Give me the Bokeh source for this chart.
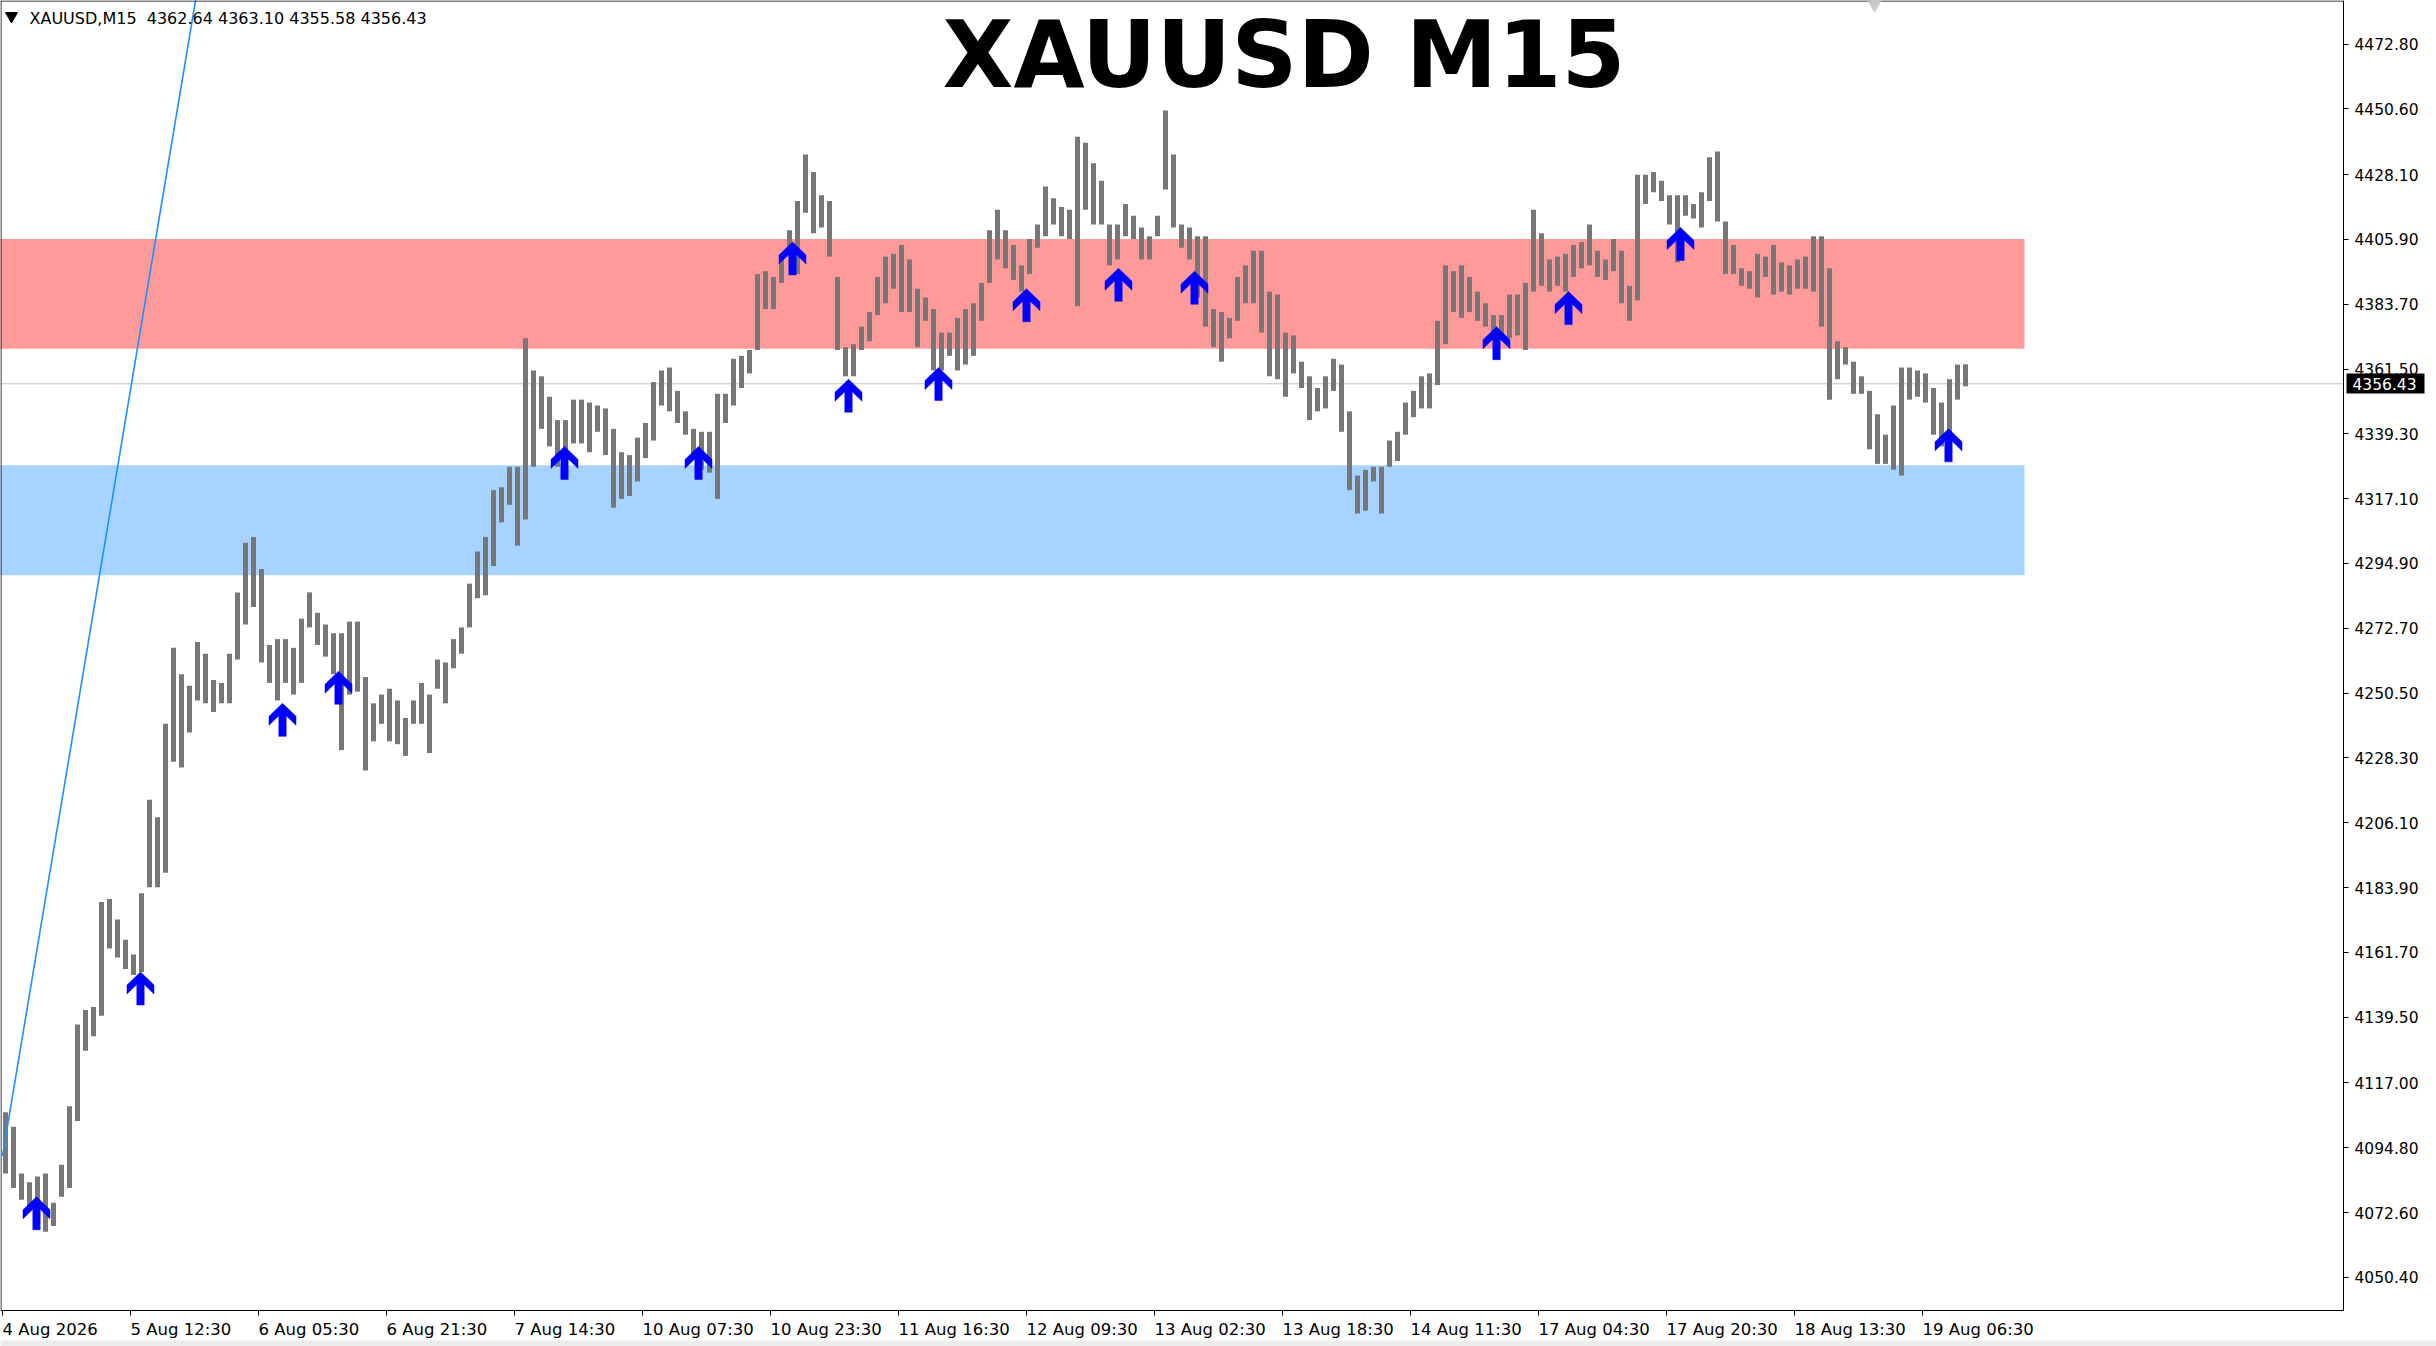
from bokeh.plotting import figure
from bokeh.models import Range1d, FixedTicker, NumeralTickFormatter, Label, LinearAxis, BoxAnnotation
from bokeh.embed import file_html
from bokeh.resources import INLINE

# ---------------- data ----------------
symbol = "XAUUSD"
timeframe = "M15"
last_ohlc = [4362.64, 4363.10, 4355.58, 4356.43]

# hourly-aggregated bars (each spans four M15 periods)
bar_high = [
    4107, 4102, 4086, 4083, 4085, 4086, 4076, 4089, 4109, 4137,
    4142, 4143, 4179, 4180, 4173, 4166, 4161, 4182, 4214, 4208,
    4240, 4266, 4257, 4253, 4268, 4264, 4255, 4254, 4264, 4285,
    4302, 4304, 4293, 4267, 4269, 4269, 4266, 4276, 4285, 4278,
    4274, 4271, 4271, 4275, 4275, 4256, 4247, 4250, 4252, 4248,
    4242, 4248, 4254, 4250, 4262, 4261, 4269, 4273, 4288, 4299,
    4304, 4320, 4321, 4328, 4328, 4372, 4361, 4359, 4352, 4344,
    4344, 4351, 4351, 4350, 4349, 4348, 4341, 4333, 4332, 4338,
    4343, 4357, 4361, 4362, 4354, 4347, 4341, 4340, 4340, 4353,
    4353, 4365, 4366, 4368, 4394, 4395, 4393, 4399, 4409, 4419,
    4435, 4429, 4421, 4419, 4393, 4369, 4370, 4376, 4381, 4393,
    4400, 4401, 4404, 4399, 4389, 4386, 4382, 4374, 4374, 4379,
    4382, 4384, 4391, 4409, 4416, 4409, 4404, 4397, 4406, 4411,
    4424, 4420, 4417, 4416, 4441, 4439, 4432, 4426, 4411, 4411,
    4418, 4414, 4410, 4407, 4414, 4450, 4435, 4411, 4410, 4407,
    4407, 4382, 4381, 4379, 4393, 4397, 4402, 4402, 4388, 4387,
    4374, 4373, 4364, 4359, 4355, 4359, 4365, 4363, 4347, 4325,
    4327, 4328, 4328, 4337, 4340, 4350, 4354, 4359, 4360, 4378,
    4397, 4395, 4397, 4393, 4388, 4384, 4380, 4380, 4387, 4387,
    4391, 4416, 4408, 4399, 4400, 4401, 4404, 4405, 4411, 4402,
    4399, 4406, 4402, 4390, 4428, 4428, 4429, 4426, 4421, 4421,
    4421, 4418, 4422, 4434, 4436, 4412, 4404, 4396, 4395, 4401,
    4400, 4404, 4398, 4397, 4399, 4400, 4407, 4407, 4396, 4371,
    4369, 4364, 4359, 4354, 4346, 4339, 4349, 4362, 4362, 4361,
    4360, 4355, 4350, 4358, 4363, 4363.10,
]
bar_low = [
    4086, 4081, 4077, 4074, 4074, 4066, 4068, 4078, 4081, 4104,
    4128, 4133, 4140, 4163, 4160, 4156, 4154, 4155, 4184, 4184,
    4189, 4227, 4225, 4237, 4248, 4247, 4244, 4247, 4247, 4262,
    4274, 4280, 4261, 4254, 4248, 4254, 4250, 4254, 4273, 4267,
    4263, 4257, 4231, 4250, 4251, 4224, 4234, 4240, 4234, 4233,
    4229, 4240, 4240, 4230, 4252, 4247, 4259, 4264, 4273, 4283,
    4284, 4294, 4309, 4315, 4301, 4310, 4328, 4341, 4335, 4328,
    4333, 4336, 4336, 4333, 4340, 4332, 4314, 4317, 4318, 4323,
    4331, 4337, 4349, 4347, 4343, 4339, 4332, 4327, 4326, 4317,
    4343, 4349, 4355, 4360, 4368, 4382, 4382, 4391, 4400, 4394,
    4415, 4408, 4410, 4400, 4368, 4359, 4359, 4368, 4371, 4380,
    4384, 4389, 4381, 4381, 4369, 4378, 4361, 4361, 4366, 4361,
    4363, 4366, 4378, 4391, 4399, 4396, 4392, 4388, 4394, 4403,
    4407, 4411, 4407, 4406, 4383, 4416, 4411, 4411, 4397, 4399,
    4407, 4406, 4399, 4399, 4407, 4423, 4410, 4403, 4399, 4386,
    4376, 4369, 4364, 4372, 4378, 4384, 4384, 4374, 4359, 4358,
    4352, 4360, 4355, 4344, 4347, 4348, 4354, 4340, 4320, 4312,
    4313, 4323, 4312, 4328, 4330, 4339, 4345, 4348, 4348, 4356,
    4370, 4381, 4379, 4381, 4378, 4376, 4374, 4372, 4372, 4373,
    4368, 4388, 4390, 4388, 4390, 4388, 4393, 4396, 4397, 4393,
    4392, 4395, 4384, 4378, 4385, 4418, 4422, 4419, 4411, 4398,
    4414, 4413, 4410, 4419, 4412, 4394, 4394, 4390, 4389, 4386,
    4393, 4387, 4388, 4387, 4389, 4389, 4388, 4376, 4351, 4358,
    4363, 4353, 4353, 4334, 4329, 4329, 4327, 4325, 4351, 4352,
    4350, 4339, 4335, 4337, 4351, 4355.58,
]

# buy-signal arrows: M15 bar index and arrow-tip price
arrow_bar = [17, 69, 140, 168, 281, 348, 395, 423, 468, 512, 558, 596, 747, 783, 839, 973]
arrow_price = [4078, 4155, 4247, 4258, 4335, 4335, 4405, 4358, 4362, 4389, 4396, 4395,
               4376, 4388, 4410, 4341]

supply_zone = [4368.4, 4406.0]
demand_zone = [4290.9, 4328.5]
zone_end_bar = 1011

trend_bar = [0, 120]
trend_price = [4092, 4584]

time_ticks = [0, 64, 128, 192, 256, 320, 384, 448, 512, 576, 640, 704, 768, 832, 896, 960]
time_labels = ["4 Aug 2026", "5 Aug 12:30", "6 Aug 05:30", "6 Aug 21:30", "7 Aug 14:30",
               "10 Aug 07:30", "10 Aug 23:30", "11 Aug 16:30", "12 Aug 09:30", "13 Aug 02:30",
               "13 Aug 18:30", "14 Aug 11:30", "17 Aug 04:30", "17 Aug 20:30", "18 Aug 13:30",
               "19 Aug 06:30"]
price_ticks = [4050.40, 4072.60, 4094.80, 4117.00, 4139.50, 4161.70, 4183.90, 4206.10,
               4228.30, 4250.50, 4272.70, 4294.90, 4317.10, 4339.30, 4361.50, 4383.70,
               4405.90, 4428.10, 4450.60, 4472.80]

# ---------------- layout ----------------
M15_PER_BAR = 4
W, H = 2436, 1346            # whole canvas is the frame; axes sit at fixed locations
PXB, PXP = 2.0, 2.92         # px per M15 bar, px per price unit
X_START = -1.0
X_END = X_START + W / PXB
Y_TOP = 4487.7
Y_BOT = Y_TOP - H / PXP


def rx(px):  # canvas pixel x -> bar units
    return X_START + px / PXB


def ry(py):  # canvas pixel y -> price units
    return Y_TOP - py / PXP


AXIS_X = rx(2343)            # price-scale border
AXIS_Y = ry(1310)            # time-scale border

p = figure(width=W, height=H, x_range=Range1d(X_START, X_END), y_range=Range1d(Y_BOT, Y_TOP),
           x_axis_location=None, y_axis_location=None,
           output_backend="svg", toolbar_location=None, min_border=0)
p.background_fill_color = "white"
p.border_fill_color = "white"
p.outline_line_color = None
p.grid.visible = False

# window strip at the very bottom
p.quad(left=[X_START], right=[X_END], bottom=[Y_BOT], top=[ry(1340)],
       fill_color="#ececec", line_color=None)

# zones
p.quad(left=[-20], right=[zone_end_bar], bottom=[supply_zone[0]], top=[supply_zone[1]],
       fill_color="#ff9a9a", line_color=None)
p.quad(left=[-20], right=[zone_end_bar], bottom=[demand_zone[0]], top=[demand_zone[1]],
       fill_color="#a6d3ff", line_color=None)

# current price line
p.segment(x0=[X_START], y0=[last_ohlc[3]], x1=[AXIS_X], y1=[last_ohlc[3]],
          line_color="#c0c0c0", line_width=1)

# bars
bar_x = [M15_PER_BAR * k + 1.5 for k in range(len(bar_high))]
p.segment(x0=bar_x, y0=bar_low, x1=bar_x, y1=bar_high, line_color="#777777", line_width=5)

# trend line
p.line(trend_bar, trend_price, line_color="#1e90ff", line_width=1.6)

# arrows (shape in px around the tip)
shape = [(0, 0), (13.5, 13), (13.5, 22), (3.7, 12.5), (3.7, 33), (-3.7, 33), (-3.7, 12.5),
         (-13.5, 22), (-13.5, 13)]
axs = [[b + dx / PXB for dx, dy in shape] for b in arrow_bar]
ays = [[v - dy / PXP for dx, dy in shape] for v in arrow_price]
p.patches(axs, ays, fill_color="#0000ff", line_color="#0000ff", line_width=0.5)

# chart border (top and left; right and bottom come from the axes)
p.segment(x0=[X_START, rx(0.5)], y0=[ry(0.5), AXIS_Y],
          x1=[AXIS_X, rx(0.5)], y1=[ry(0.5), Y_TOP],
          line_color="black", line_width=1)

# small markers at top
p.scatter([rx(11)], [ry(15.5)], marker="inverted_triangle", size=12, fill_color="black", line_color="black")
p.scatter([rx(1874)], [ry(3)], marker="inverted_triangle", size=16, fill_color="#c8c8c8", line_color=None)

# texts
p.add_layout(Label(x=rx(29), y=ry(18), text=f"{symbol},{timeframe}\u00a0\u00a0" + " ".join(f"{v:.2f}" for v in last_ohlc),
                   text_font="DejaVu Sans", text_font_size="16px", text_color="black",
                   text_align="left", text_baseline="alphabetic"))
p.add_layout(Label(x=rx(942), y=ry(55), text=f"{symbol} {timeframe}",
                   text_font="DejaVu Sans", text_font_size="92px", text_font_style="bold",
                   text_color="black", text_align="left", text_baseline="alphabetic"))
for t, lab in zip(time_ticks, time_labels):
    p.add_layout(Label(x=t, y=ry(1338), text=lab, text_font="DejaVu Sans", text_font_size="16.5px",
                       text_color="black", text_align="left", text_baseline="bottom"))

# axes at fixed locations
xa = LinearAxis(fixed_location=AXIS_Y, bounds=(X_START, AXIS_X),
                ticker=FixedTicker(ticks=time_ticks))
xa.major_label_overrides = {t: "" for t in time_ticks}
xa.major_label_text_font_size = "1px"
xa.major_tick_out = 5
xa.major_tick_in = 0
xa.minor_tick_out = 0
xa.minor_tick_in = 0
xa.axis_line_color = "black"
xa.major_tick_line_color = "black"
p.add_layout(xa, "below")

ya = LinearAxis(fixed_location=AXIS_X, bounds=(AXIS_Y, Y_TOP),
                ticker=FixedTicker(ticks=price_ticks),
                formatter=NumeralTickFormatter(format="0.00"))
ya.major_label_text_font = "DejaVu Sans"
ya.major_label_text_font_size = "15.5px"
ya.major_label_text_color = "black"
ya.major_tick_out = 5
ya.major_tick_in = 0
ya.minor_tick_out = 0
ya.minor_tick_in = 0
ya.major_label_standoff = 6
ya.axis_line_color = "black"
ya.major_tick_line_color = "black"
p.add_layout(ya, "right")

# price tag on the scale, drawn over the scale labels
p.add_layout(BoxAnnotation(left=rx(2346), right=rx(2424), top=ry(373), bottom=ry(393),
                           fill_color="black", fill_alpha=1.0, line_color=None))
p.add_layout(Label(x=rx(2352), y=last_ohlc[3], text=f"{last_ohlc[3]:.2f}",
                   text_font="DejaVu Sans", text_font_size="15.5px", text_color="white",
                   text_align="left", text_baseline="middle"))

open("out.html", "w").write(file_html(p, INLINE))
